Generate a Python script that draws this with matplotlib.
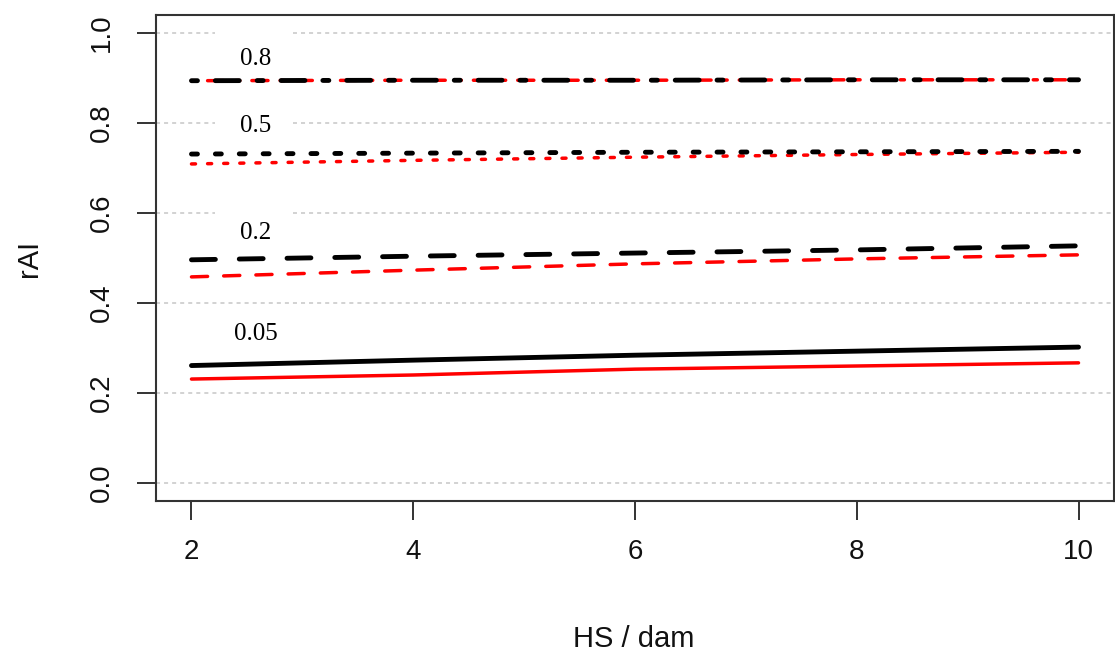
"""Step-like rAI curves vs HS, black/red pairs per level (R-style base plot)."""
import matplotlib
matplotlib.use("Agg")
import matplotlib.pyplot as plt
from matplotlib.patches import Rectangle

plt.rcParams["lines.scale_dashes"] = False
plt.rcParams["font.family"] = ["Liberation Sans", "DejaVu Sans"]

# ── data ─────────────────────────────────────────────────────────────────────
hs = [2, 4, 6, 8, 10]

black_005 = [0.261, 0.273, 0.284, 0.293, 0.302]
red_005   = [0.231, 0.240, 0.253, 0.260, 0.267]
black_02  = [0.496, 0.504, 0.511, 0.518, 0.527]
red_02    = [0.458, 0.473, 0.487, 0.498, 0.507]
black_05  = [0.731, 0.733, 0.735, 0.736, 0.737]
red_05    = [0.709, 0.717, 0.724, 0.730, 0.735]
black_08  = [0.894, 0.895, 0.895, 0.896, 0.896]
red_08    = [0.894, 0.895, 0.895, 0.896, 0.896]

level_labels = ["0.05", "0.2", "0.5", "0.8"]
label_x      = [2.58, 2.58, 2.58, 2.58]
label_y      = [0.318, 0.542, 0.780, 0.929]   # baselines

y_ticks = [0.0, 0.2, 0.4, 0.6, 0.8, 1.0]
x_ticks = [2, 4, 6, 8, 10]

# ── styles (R lty patterns, units scale with lwd) ────────────────────────────
BU, RU = 4.3, 2.9          # dash unit in points, black / red
BLW, RLW = 3.5, 2.5
styles = {
    "solid":   lambda u: None,
    "dashed":  lambda u: (4 * u, 4 * u),
    "dotted":  lambda u: (1 * u, 3 * u),
    "dotdash": lambda u: (1 * u, 3 * u, 4 * u, 3 * u),
}
series = [
    (black_005, red_005, "solid"),
    (black_02,  red_02,  "dashed"),
    (black_05,  red_05,  "dotted"),
    (black_08,  red_08,  "dotdash"),
]

W, H = 1115, 651
fig = plt.figure(figsize=(W / 100, H / 100), dpi=100)
ax = fig.add_axes([156 / W, 1 - 501 / H, (1114 - 156) / W, (501 - 15) / H])

ax.set_xlim(1.68, 10.32)
ax.set_ylim(-0.04, 1.04)

# light dotted horizontal grid
for yv in y_ticks:
    ax.axhline(yv, color="#cfcfcf", lw=1.3, dashes=(2.9, 2.9), zorder=0.5)

for bl, rd, st in series:
    for vals, col, lw, u, z in [(rd, "red", RLW, RU, 2), (bl, "black", BLW, BU, 3)]:
        line, = ax.plot(hs, vals, color=col, lw=lw, zorder=z,
                        solid_capstyle="round", dash_capstyle="round")
        d = styles[st](u)
        if d is not None:
            line.set_dashes(d)

# level labels with white patches behind (they break the grid lines)
for lab, lx, ly in zip(level_labels, label_x, label_y):
    yc = ly + 0.018
    ax.add_patch(Rectangle((lx - 0.37, yc - 0.06), 0.71, 0.12,
                           facecolor="white", edgecolor="none", zorder=1))
    ax.text(lx, ly, lab, ha="center", va="baseline", fontsize=18,
            family=["Liberation Serif", "DejaVu Serif"], zorder=4)

ax.set_xticks(x_ticks)
ax.set_xticklabels([str(v) for v in x_ticks])
ax.set_yticks(y_ticks)
ax.set_yticklabels([f"{v:.1f}" for v in y_ticks], rotation=90, va="center")

for s in ax.spines.values():
    s.set_color("#333333")
    s.set_linewidth(1.5)

ax.tick_params(axis="both", direction="out", length=13.7, width=1.4,
               color="#333333", labelsize=20, labelcolor="#111111")
ax.tick_params(axis="x", pad=14)
ax.tick_params(axis="y", pad=16)

fig.text(634 / W, 1 - 647 / H, "HS / dam", ha="center", va="baseline",
         fontsize=21, color="#111111")
fig.text(37 / W, 1 - 258 / H, "rAI", rotation=90, rotation_mode="anchor",
         ha="center", va="baseline", fontsize=21, color="#111111")

fig.savefig("out.png", dpi=100)
